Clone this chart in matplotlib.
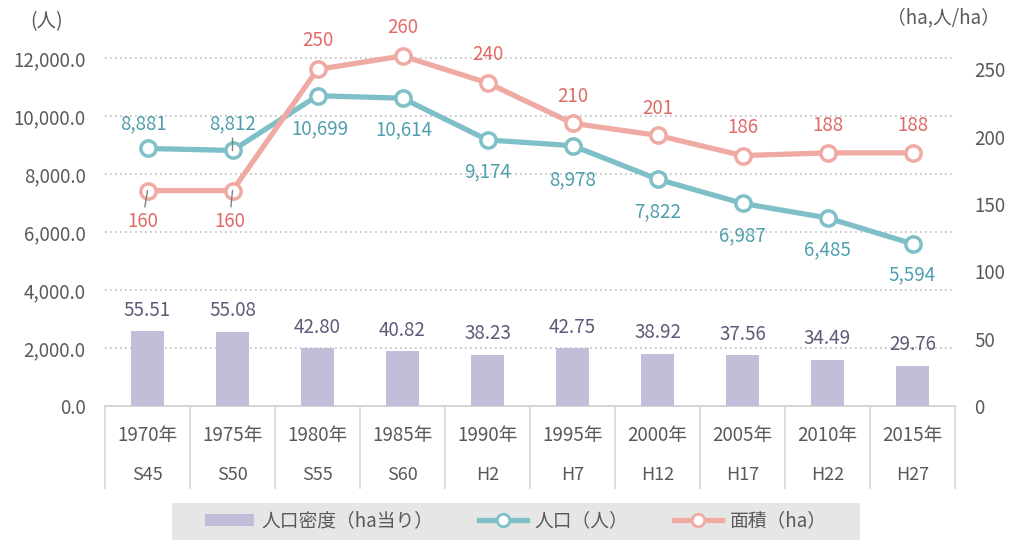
import numpy as np
import matplotlib
matplotlib.use("Agg")
import matplotlib.pyplot as plt
from matplotlib.patches import Patch, Rectangle
from matplotlib.lines import Line2D

plt.rcParams['font.family'] = ['Noto Sans CJK JP', 'DejaVu Sans']

# Data
years = ['1970年', '1975年', '1980年', '1985年', '1990年', '1995年', '2000年', '2005年', '2010年', '2015年']
eras = ['S45', 'S50', 'S55', 'S60', 'H2', 'H7', 'H12', 'H17', 'H22', 'H27']
population = [8881, 8812, 10699, 10614, 9174, 8978, 7822, 6987, 6485, 5594]
area = [160, 160, 250, 260, 240, 210, 201, 186, 188, 188]
density = [55.51, 55.08, 42.80, 40.82, 38.23, 42.75, 38.92, 37.56, 34.49, 29.76]

# Colours
BAR_C = '#c4bdda'
POP_C = '#7fc0c8'
POP_TXT = '#4f9fae'
AREA_C = '#f0aaa4'
AREA_TXT = '#e06a66'
BAR_TXT = '#5d5a78'
TICK_C = '#595959'
GRID_C = '#bfbfbf'

fig = plt.figure(figsize=(10.13, 5.4), dpi=100)
ax = fig.add_axes([105 / 1013, 1 - 406 / 540, 850 / 1013, 377 / 540])
ax2 = ax.twinx()

x = np.arange(len(years))

# left axis: population
ax.set_xlim(-0.5, len(years) - 0.5)
ax.set_ylim(0, 13000)
ax.set_yticks(np.arange(0, 12001, 2000))
ax.set_yticklabels([f"{v:,.1f}" for v in np.arange(0, 12001, 2000)])
for v in np.arange(2000, 12001, 2000):
    ax.axhline(v, color=GRID_C, lw=1.2, ls=(0, (1, 2)), zorder=0)

# right axis: area and density
ax2.set_ylim(0, 280)
ax2.set_yticks(np.arange(0, 251, 50))

for a in (ax, ax2):
    for s in a.spines.values():
        s.set_visible(False)
    a.tick_params(axis='y', length=0, labelsize=13.5, labelcolor=TICK_C)
ax.tick_params(axis='y', pad=14)
ax2.tick_params(axis='y', pad=14)
ax.set_xticks([])

# bars on right axis
ax2.bar(x, density, width=0.39, color=BAR_C, zorder=1)
for xi, d in zip(x, density):
    ax2.annotate(f"{d:.2f}", (xi, d), xytext=(0, 21), textcoords='offset pixels',
                 ha='center', va='center', fontsize=13.5, color=BAR_TXT)

# lines drawn on ax2 using population scaled into right axis units
scale = 280 / 13000
pop_r = [p * scale for p in population]
ax2.plot(x, pop_r, color=POP_C, lw=3.8, marker='o', ms=11, mfc='white',
         mec=POP_C, mew=2.5, zorder=4)
ax2.plot(x, area, color=AREA_C, lw=3.8, marker='o', ms=11, mfc='white',
         mec=AREA_C, mew=2.5, zorder=5)

# population labels
pop_off = [(-4, 25), (0, 27), (2, -33), (1, -32), (0, -32), (0, -34), (0, -33), (0, -32), (0, -32), (0, -31)]
for i, (xi, p) in enumerate(zip(x, pop_r)):
    dx, dy = pop_off[i]
    kw = {}
    if i == 1:
        kw = dict(arrowprops=dict(arrowstyle='-', color='#7f7f7f', lw=1, shrinkA=1, shrinkB=0))
    ax2.annotate(f"{population[i]:,}", (xi, p), xytext=(dx, dy), textcoords='offset pixels',
                 ha='center', va='center', fontsize=13.5, color=POP_TXT, zorder=6, **kw)

# area labels
area_off = [(-5, -31), (-3, -31), (0, 29), (0, 28), (0, 28), (0, 27), (0, 27), (0, 28), (0, 27), (0, 27)]
for i, (xi, a_) in enumerate(zip(x, area)):
    dx, dy = area_off[i]
    kw = {}
    if i < 2:
        kw = dict(arrowprops=dict(arrowstyle='-', color='#7f7f7f', lw=1, shrinkA=1, shrinkB=0))
    ax2.annotate(f"{a_}", (xi, a_), xytext=(dx, dy), textcoords='offset pixels',
                 ha='center', va='center', fontsize=13.5, color=AREA_TXT, zorder=6, **kw)

# category table below the plot
trans = ax.get_xaxis_transform()
ax.plot([-0.5, len(years) - 0.5], [0, 0], color='#d0d0d0', lw=1.3, transform=trans, clip_on=False)
for b in np.arange(-0.5, len(years), 1.0):
    ax.plot([b, b], [0, -0.218], color='#d9d9d9', lw=1.3, transform=trans, clip_on=False)
for xi, yr, er in zip(x, years, eras):
    ax.text(xi, -0.078, yr, transform=trans, ha='center', va='center', fontsize=13.5, color=TICK_C)
    ax.text(xi, -0.183, er, transform=trans, ha='center', va='center', fontsize=13, color=TICK_C)

# axis unit labels
fig.text(47 / 1013, 1 - 22 / 540, '(人)', ha='center', va='center', fontsize=14, color=TICK_C)
fig.text(943 / 1013, 1 - 18 / 540, '（ha,人/ha）', ha='center', va='center', fontsize=13.5, color=TICK_C)

# legend
fig.patches.append(Rectangle((172 / 1013, 0), 688 / 1013, 37 / 540, transform=fig.transFigure,
                             facecolor='#e6e6e6', edgecolor='none', zorder=0))
handles = [
    Patch(facecolor=BAR_C, edgecolor='none'),
    Line2D([], [], color=POP_C, lw=3.8, marker='o', ms=9, mfc='white', mec=POP_C, mew=2),
    Line2D([], [], color=AREA_C, lw=3.8, marker='o', ms=9, mfc='white', mec=AREA_C, mew=2),
]
labels = ['人口密度（ha当り）', '人口（人）', '面積（ha）']
fig.legend(handles, labels, loc='center', bbox_to_anchor=(516 / 1013, 1 - 521 / 540), ncol=3,
           frameon=False, fontsize=13.5, handlelength=2.6, handleheight=0.6,
           handletextpad=0.4, columnspacing=2.4, labelcolor=TICK_C)

fig.savefig('out.png', dpi=100, facecolor='white')
